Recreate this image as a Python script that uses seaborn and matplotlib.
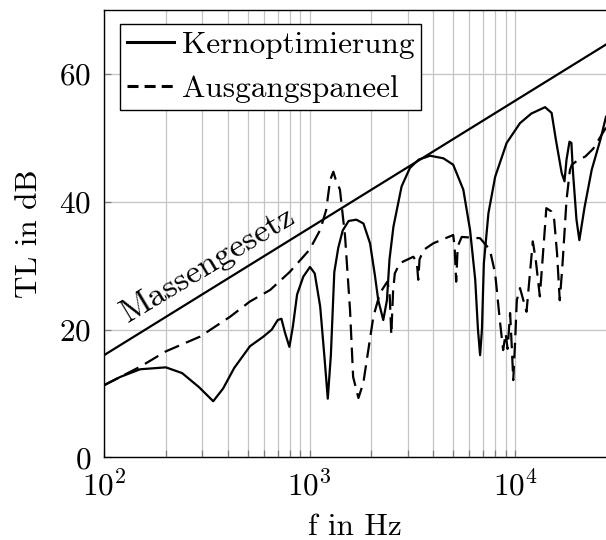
import math
import matplotlib
matplotlib.use("Agg")
import matplotlib.pyplot as plt
from matplotlib.ticker import FixedLocator, FuncFormatter, NullFormatter
import seaborn as sns

# values
freq_kern = [100, 120, 150, 200, 240, 290, 340, 380, 430, 513, 596, 655, 700, 730, 760,
             798, 830, 870, 933, 1005, 1060, 1127, 1180, 1227, 1270, 1320, 1380, 1450,
             1550, 1690, 1830, 1970, 2080, 2160, 2285, 2380, 2450, 2560, 2805, 3080,
             3400, 3860, 4480, 5000, 5600, 6040, 6400, 6600, 6760, 6900, 7050, 7420,
             8000, 9100, 10570, 12000, 14000, 15060, 15800, 16860, 17400, 17800, 18400,
             18800, 19100, 19900, 20550, 21800, 23600, 26000, 27700]
tl_kern = [11.3, 12.6, 13.8, 14.1, 13.2, 11.0, 8.8, 10.8, 14.0, 17.4, 18.9, 20.0, 21.5,
           21.7, 19.5, 17.3, 20.5, 25.5, 28.3, 29.8, 28.8, 23.6, 16.0, 9.2, 16.0, 29.0,
           32.8, 35.5, 37.0, 37.2, 36.6, 33.5, 28.5, 24.6, 21.5, 24.6, 31.0, 36.1, 42.4,
           45.3, 46.6, 47.2, 46.8, 45.8, 41.9, 35.6, 27.8, 20.0, 16.0, 20.0, 30.4, 38.2,
           43.9, 49.2, 52.3, 53.8, 54.8, 53.9, 49.7, 44.5, 43.2, 46.6, 49.4, 49.2, 45.0,
           37.2, 34.0, 39.2, 45.0, 49.7, 53.3]

freq_aus = [100, 150, 200, 293, 410, 513, 643, 800, 1000, 1127, 1205, 1260, 1306, 1340,
            1406, 1489, 1574, 1630, 1730, 1828, 2044, 2200, 2390, 2450, 2500, 2550, 2600,
            2750, 3200, 3330, 3380, 3430, 3600, 4000, 5000, 5080, 5170, 5260, 5500, 6760,
            7540, 8000, 8430, 8750, 9000, 9200, 9460, 9650, 9800, 10000, 10200, 10570,
            11370, 12200, 12600, 13200, 14200, 15000, 15500, 16000, 16500, 17000, 17800,
            18500, 18900, 20000, 22000, 24000, 27700]
tl_aus = [11.3, 14.2, 16.6, 18.9, 22.0, 24.4, 26.2, 29.0, 32.5, 35.6, 38.7, 43.4, 44.7,
          43.5, 41.9, 34.6, 23.1, 12.6, 9.3, 11.7, 22.0, 25.7, 27.5, 26.0, 19.2, 26.0,
          28.8, 30.4, 31.4, 30.5, 27.8, 31.0, 32.5, 33.5, 34.8, 33.0, 27.5, 33.0, 34.5,
          34.3, 32.5, 28.8, 21.5, 16.8, 19.4, 17.0, 22.6, 17.0, 12.1, 18.0, 24.6, 26.5,
          22.8, 33.8, 31.0, 25.2, 39.0, 38.5, 37.2, 32.0, 24.6, 30.0, 40.3, 45.0, 45.8,
          46.4, 47.1, 48.3, 51.6]

freq_mass = [100, 27700]
tl_mass = [16.0, 64.6]

x_majors = [100, 1000, 10000]
x_minors = [200, 300, 400, 500, 600, 700, 800, 900,
            2000, 3000, 4000, 5000, 6000, 7000, 8000, 9000]
y_ticks = [0, 20, 40, 60]

plt.rcParams['font.family'] = ['cmr10', 'DejaVu Serif']
plt.rcParams['mathtext.fontset'] = 'cm'
plt.rcParams['mathtext.default'] = 'rm'
plt.rcParams['axes.formatter.use_mathtext'] = True
plt.rcParams['font.size'] = 22.5

fig = plt.figure(figsize=(6.06, 5.4), dpi=100)
ax = fig.add_axes([0.1716, 0.1528, 0.8284, 0.8287])

lw = 1.6
sns.lineplot(x=freq_mass, y=tl_mass, color='black', lw=lw, ax=ax, estimator=None)
sns.lineplot(x=freq_kern, y=tl_kern, color='black', lw=lw, ax=ax, estimator=None,
             label='Kernoptimierung')
sns.lineplot(x=freq_aus, y=tl_aus, color='black', lw=lw, ax=ax, estimator=None,
             label='Ausgangspaneel')
ax.get_lines()[2].set_dashes((7, 3.4))

ax.set_xscale('log')
ax.set_xlim(100, 27700)
ax.set_ylim(0, 70)

ax.xaxis.set_major_locator(FixedLocator(x_majors))
ax.xaxis.set_minor_locator(FixedLocator(x_minors))
ax.xaxis.set_major_formatter(FuncFormatter(lambda v, p: r'$10^{%d}$' % round(math.log10(v))))
ax.xaxis.set_minor_formatter(NullFormatter())
ax.yaxis.set_major_locator(FixedLocator(y_ticks))

ax.grid(True, which='both', color='#c4c4c4', lw=0.9)
ax.set_axisbelow(True)
ax.tick_params(which='both', direction='in', color='#7a7a7a', length=5, width=0.9)
ax.tick_params(axis='x', pad=9)
ax.tick_params(axis='y', pad=9)

for s in ['left', 'bottom', 'top']:
    ax.spines[s].set_color('black')
    ax.spines[s].set_linewidth(1.0)
ax.spines['right'].set_visible(False)

ax.set_xlabel('f in Hz', labelpad=8)
ax.set_ylabel('TL in dB', labelpad=12)

ax.text(131, 21.0, 'Massengesetz', rotation=31, rotation_mode='anchor',
        ha='left', va='baseline', fontsize=24.5)

leg = ax.legend(loc='upper left', bbox_to_anchor=(0.032, 0.968), borderaxespad=0,
                frameon=True, fancybox=False, edgecolor='black', framealpha=1,
                handlelength=1.5, handletextpad=0.25, labelspacing=0.5,
                borderpad=0.22)
leg.get_frame().set_linewidth(1.0)
for h in leg.get_lines():
    h.set_linewidth(2.2)
leg.get_lines()[1].set_dashes((3.6, 2.0))

fig.savefig('out.png', dpi=100)
